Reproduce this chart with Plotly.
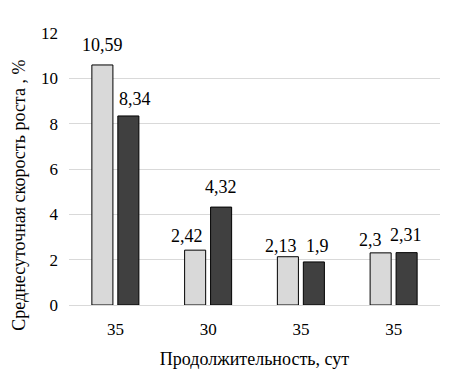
import plotly.graph_objects as go

categories = ["35", "30", "35", "35"]
series_light = [10.59, 2.42, 2.13, 2.3]
series_dark = [8.34, 4.32, 1.9, 2.31]
y_ticks = [0, 2, 4, 6, 8, 10, 12]

# label nudges in pixels (style only): (dx, gap above bar)
light_nudge = [(0, 13), (-8, 7), (-7, 4), (-10, 6)]
dark_nudge = [(7, 10), (0, 13), (4, 9), (-1, 11)]

x_pos = list(range(len(categories)))

def fmt(v):
    return str(v).replace(".", ",")

font_family = "'Liberation Serif', 'Times New Roman', 'DejaVu Serif', serif"

fig = go.Figure()
fig.add_trace(go.Bar(
    x=x_pos, y=series_light,
    marker=dict(color="#d9d9d9", line=dict(color="black", width=1)),
    showlegend=False, hoverinfo="y",
))
fig.add_trace(go.Bar(
    x=x_pos, y=series_dark,
    marker=dict(color="#404040", line=dict(color="black", width=1)),
    showlegend=False, hoverinfo="y",
))

annotations = []
for i, v in enumerate(series_light):
    dx, gap = light_nudge[i]
    annotations.append(dict(x=x_pos[i], y=v, xref="x", yref="y", text=fmt(v),
                            showarrow=False, xshift=-13 + dx, yshift=gap - 5,
                            yanchor="bottom", xanchor="center",
                            font=dict(family=font_family, size=18, color="black")))
for i, v in enumerate(series_dark):
    dx, gap = dark_nudge[i]
    annotations.append(dict(x=x_pos[i], y=v, xref="x", yref="y", text=fmt(v),
                            showarrow=False, xshift=13 + dx, yshift=gap - 5,
                            yanchor="bottom", xanchor="center",
                            font=dict(family=font_family, size=18, color="black")))
annotations.append(dict(x=-0.135, y=0.405, xref="paper", yref="paper",
                        text="Среднесуточная скорость роста , %", textangle=-90,
                        showarrow=False, xanchor="center", yanchor="middle",
                        font=dict(family=font_family, size=18, color="black")))

fig.update_layout(
    width=452, height=363,
    margin=dict(l=61, r=20, t=25, b=66),
    paper_bgcolor="white", plot_bgcolor="white",
    barmode="group", bargap=0.44, bargroupgap=0.19,
    font=dict(family=font_family, size=17, color="black"),
    annotations=annotations,
    xaxis=dict(
        tickmode="array", tickvals=x_pos, ticktext=categories,
        range=[-0.5, len(categories) - 0.5],
        showgrid=False, showline=False, zeroline=False, ticks="",
        ticklabelstandoff=12, automargin=False,
        title=dict(text="Продолжительность, сут", standoff=14,
                   font=dict(family=font_family, size=18)),
        tickfont=dict(family=font_family, size=17),
    ),
    yaxis=dict(
        range=[0, 12], tickvals=y_ticks,
        showgrid=True, gridcolor="#d9d9d9", gridwidth=1,
        zeroline=True, zerolinecolor="#d9d9d9", zerolinewidth=1,
        showline=False, ticks="",
        ticklabelstandoff=10, automargin=False,
        tickfont=dict(family=font_family, size=17),
    ),
)

fig.write_html("out.html")
